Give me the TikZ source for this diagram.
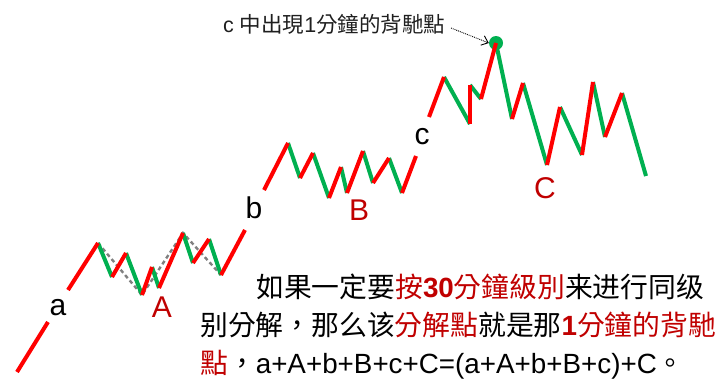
\documentclass[tikz,border=0pt]{standalone}
\usepackage{fontspec}
\setmainfont{Liberation Sans}
\newfontfamily\cjk{Noto Sans CJK TC}
\usetikzlibrary{arrows.meta}
\definecolor{lred}{HTML}{FF0000}
\definecolor{lgreen}{HTML}{00B050}
\definecolor{dred}{HTML}{C00000}
\definecolor{dgray}{HTML}{808080}
\tikzset{
  up/.style={draw=lred,line width=4pt},
  down/.style={draw=lgreen,line width=4pt},
  guide/.style={draw=dgray,line width=2.4pt,dash pattern=on 4pt off 3pt},
  lbl/.style={font=\fontsize{30}{30}\selectfont,inner sep=0pt},
  ulbl/.style={lbl,text=dred},
  body/.style={font=\fontsize{27.8}{30}\selectfont,anchor=base west,inner sep=0pt},
}
\begin{document}
\begin{tikzpicture}[x=1pt,y=-1pt]
\useasboundingbox (0,0) rectangle (722,386);
% vertices
\coordinate (P0) at (17,372);
\coordinate (P1) at (98,243);
\coordinate (P2) at (112,277);
\coordinate (P3) at (126,253);
\coordinate (P4) at (142,295);
\coordinate (P5) at (152,267);
\coordinate (P6) at (159,288);
\coordinate (P7) at (183,233);
\coordinate (P8) at (193,263);
\coordinate (P9) at (209,239);
\coordinate (P10) at (221,275);
\coordinate (P11) at (288,143);
\coordinate (P12) at (300,178);
\coordinate (P13) at (313,153);
\coordinate (P14) at (329,198);
\coordinate (P15) at (341,167);
\coordinate (P16) at (347,193);
\coordinate (P17) at (363,151);
\coordinate (P18) at (373,183);
\coordinate (P19) at (389,158);
\coordinate (P20) at (402,193);
\coordinate (P21) at (444,77);
\coordinate (P22) at (470,124);
\coordinate (P23) at (470,85);
\coordinate (P24) at (481,99);
\coordinate (P25) at (496,43);
\coordinate (P26) at (512,119);
\coordinate (P27) at (523,83);
\coordinate (P28) at (547,165);
\coordinate (P29) at (560,107);
\coordinate (P30) at (582,155);
\coordinate (P31) at (593,82);
\coordinate (P32) at (605,137);
\coordinate (P33) at (622,93);
\coordinate (P34) at (646,176);
% gap ends around labels
\coordinate (Ga1) at (48,322);
\coordinate (Ga2) at (68,290);
\coordinate (Gb1) at (245,230);
\coordinate (Gb2) at (264,190);
\coordinate (Gc1) at (416,156);
\coordinate (Gc2) at (429,117);
% dashed guide of A
\draw[guide] (P1) -- (P4) -- (P7) -- (P10);
% green dot
\node[circle,fill=lgreen,minimum size=14pt,inner sep=0pt] (dot) at (P25) {};
% down moves
\foreach \a/\b in {P1/P2,P3/P4,P5/P6,P7/P8,P9/P10,P11/P12,P13/P14,P15/P16,P17/P18,P19/P20,P21/P22,P23/P24,P25/P26,P27/P28,P29/P30,P31/P32,P33/P34}
  \draw[down] (\a) -- (\b);
% up moves
\foreach \a/\b in {P0/Ga1,Ga2/P1,P2/P3,P4/P5,P6/P7,P8/P9,P10/Gb1,Gb2/P11,P12/P13,P14/P15,P16/P17,P18/P19,P20/Gc1,Gc2/P21,P22/P23,P24/P25,P26/P27,P28/P29,P30/P31,P32/P33}
  \draw[up] (\a) -- (\b);
% labels
\node[lbl] (la) at (58,308) {a};
\node[ulbl] (lA) at (162,307) {A};
\node[lbl] (lb) at (254,208) {b};
\node[ulbl] (lB) at (359,210) {B};
\node[lbl] (lc) at (422,137) {c};
\node[ulbl] (lC) at (545,188) {C};
% annotation
\node[font=\fontsize{21.5}{24}\selectfont,anchor=base west,inner sep=0pt,text=black!88] (note) at (223,32) {c {\cjk 中出現}1{\cjk 分鐘的背馳點}};
\coordinate (arrS) at (451,28);
\draw[densely dotted,line width=0.9pt,-{Straight Barb[length=6pt,width=10pt]}] (arrS) -- (dot.west);
% body text
\node[body] (t1) at (256,297) {{\cjk 如果一定要}\textcolor{dred}{{\cjk 按}\textbf{30}{\cjk 分鐘級別}}{\cjk 来进行同级}};
\node[body] (t2) at (200,335) {{\cjk 别分解，那么该}\textcolor{dred}{\cjk 分解點}{\cjk 就是那}\textcolor{dred}{\textbf{1}{\cjk 分鐘的背馳}}};
\node[body] (t3) at (200,373) {\textcolor{dred}{\cjk 點}{\cjk ，}a+A+b+B+c+C=(a+A+b+B+c)+C{\cjk 。}};
\end{tikzpicture}
\end{document}
